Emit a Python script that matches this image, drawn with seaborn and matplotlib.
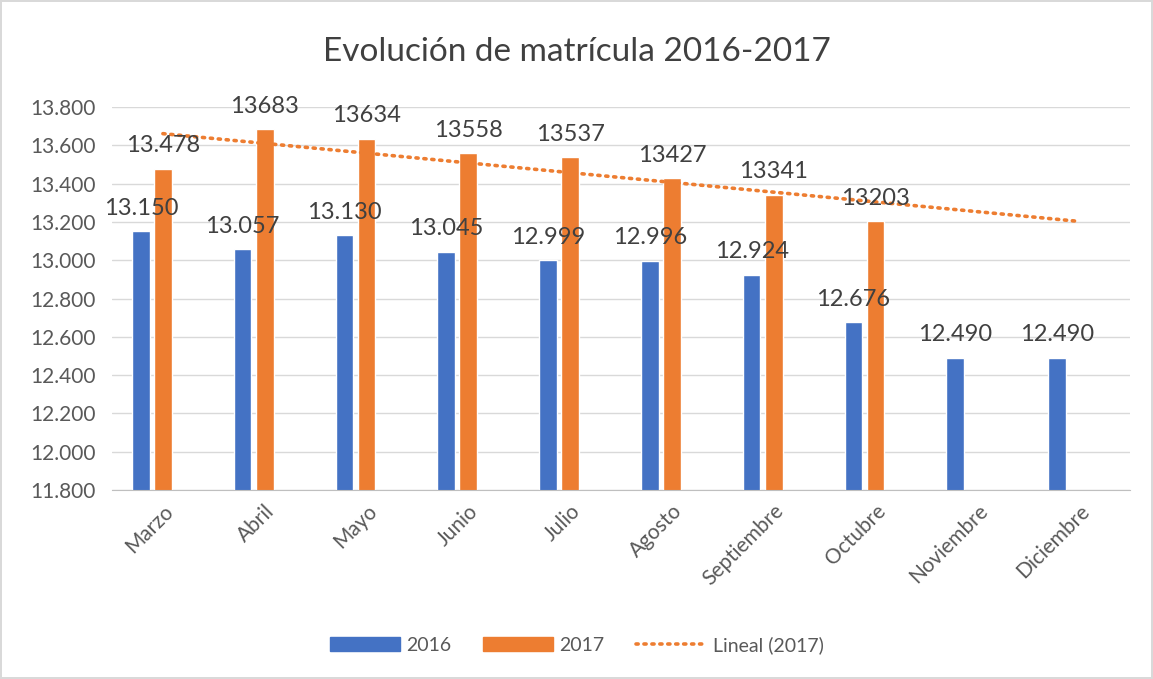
import numpy as np
import pandas as pd
import matplotlib
matplotlib.use("Agg")
import matplotlib.pyplot as plt
from matplotlib.patches import Patch
from matplotlib.lines import Line2D
from matplotlib.ticker import FuncFormatter
import seaborn as sns

meses = ['Marzo', 'Abril', 'Mayo', 'Junio', 'Julio', 'Agosto',
         'Septiembre', 'Octubre', 'Noviembre', 'Diciembre']
vals_2016 = [13150, 13057, 13130, 13045, 12999, 12996, 12924, 12676, 12490, 12490]
vals_2017 = [13478, 13683, 13634, 13558, 13537, 13427, 13341, 13203, np.nan, np.nan]
labels_2016 = ['13.150', '13.057', '13.130', '13.045', '12.999', '12.996',
               '12.924', '12.676', '12.490', '12.490']
labels_2017 = ['13.478', '13683', '13634', '13558', '13537', '13427',
               '13341', '13203', '', '']

azul = '#4472C4'
naranja = '#ED7D31'
gris_txt = '#595959'

df = pd.DataFrame({
    'mes': meses * 2,
    'anio': ['2016'] * len(meses) + ['2017'] * len(meses),
    'valor': vals_2016 + vals_2017,
})

sns.set_style('white')
plt.rcParams['font.family'] = ['Lato', 'DejaVu Sans']

fig = plt.figure(figsize=(11.53, 6.79), dpi=100)
fig.patch.set_edgecolor('#D9D9D9')
fig.patch.set_linewidth(1.5)
ax = fig.add_axes([112 / 1153, 1 - 490 / 679, 1018 / 1153, 383 / 679])

# third (empty) hue slot keeps the Excel-like left offset of the bars
sns.barplot(data=df, x='mes', y='valor', hue='anio', order=meses,
            hue_order=['2016', '2017', 'Lineal (2017)'],
            palette={'2016': azul, '2017': naranja, 'Lineal (2017)': naranja},
            width=0.65, gap=0.2, saturation=1, legend=False, ax=ax)

# linear trendline over the 2017 values, extended to the end
y17 = np.array(vals_2017)
ok = ~np.isnan(y17)
xs = np.arange(len(meses))
coef = np.polyfit(xs[ok], y17[ok], 1)
ax.plot(xs, np.polyval(coef, xs), color=naranja, lw=2.6,
        linestyle=(0, (0.6, 1.6)), dash_capstyle='round', zorder=3)

for cont, labs in zip(ax.containers, [labels_2016, labels_2017]):
    bars = [b for b in cont if b is not None]
    for b, lab in zip(bars, labs):
        ax.annotate(lab, (b.get_x() + b.get_width() / 2, b.get_height()),
                    xytext=(0, 9), textcoords='offset points',
                    ha='center', va='bottom', fontsize=17, color='#404040',
                    annotation_clip=False)

ax.set_ylim(11800, 13800)
ax.set_yticks(np.arange(11800, 13801, 200))
ax.yaxis.set_major_formatter(FuncFormatter(lambda v, p: f'{int(v):,}'.replace(',', '.')))
ax.set_xlim(-0.5, len(meses) - 0.5)
ax.grid(axis='y', color='#D9D9D9', lw=1)
ax.set_axisbelow(True)
for s in ['top', 'right', 'left']:
    ax.spines[s].set_visible(False)
ax.spines['bottom'].set_color('#BFBFBF')
ax.set_xlabel('')
ax.set_ylabel('')
ax.tick_params(axis='y', length=0, labelsize=15, labelcolor=gris_txt, pad=12)
ax.tick_params(axis='x', length=0, labelsize=15, labelcolor=gris_txt, pad=8)
plt.setp(ax.get_xticklabels(), rotation=45, ha='right', rotation_mode='anchor')

fig.suptitle('Evolución de matrícula 2016-2017', fontsize=24, color='#404040', y=0.945)

handles = [Patch(color=azul), Patch(color=naranja),
           Line2D([0], [0], color=naranja, lw=2.6, linestyle=(0, (0.6, 1.6)),
                  dash_capstyle='round')]
fig.legend(handles, ['2016', '2017', 'Lineal (2017)'], loc='center',
           bbox_to_anchor=(0.5, 0.05), ncol=3, frameon=False, fontsize=14,
           handlelength=3.6, handleheight=0.72, handletextpad=0.35,
           columnspacing=1.6, labelcolor=gris_txt)

fig.savefig('out.png', dpi=100, edgecolor=fig.get_edgecolor())
